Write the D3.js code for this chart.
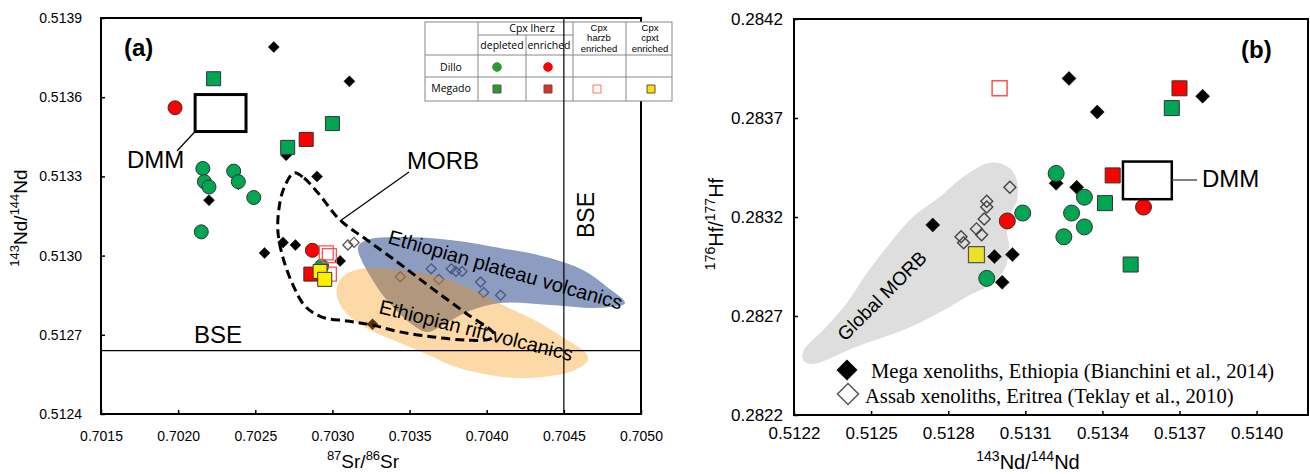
<!DOCTYPE html>
<html>
<head>
<meta charset="utf-8">
<script src="https://cdn.jsdelivr.net/npm/d3@7"></script>
<style>
body { margin: 0; background: #fff; }
text { font-family: "Liberation Sans", Arial, sans-serif; fill: #000; }
</style>
</head>
<body>
<script>
const w = 1310;
const h = 474;

// ---- panel (a): 87Sr/86Sr vs 143Nd/144Nd ----
const aXTicks = [0.7015, 0.7020, 0.7025, 0.7030, 0.7035, 0.7040, 0.7045, 0.7050];
const aYTicks = [0.5124, 0.5127, 0.5130, 0.5133, 0.5136, 0.5139];

const aMega = [[0.70262, 0.51379], [0.70311, 0.51366], [0.70270, 0.51338], [0.70290, 0.51330],
  [0.70239, 0.51327], [0.70220, 0.51321], [0.70256, 0.51301], [0.70268, 0.51305],
  [0.70276, 0.51304], [0.70305, 0.51298], [0.70326, 0.51274]];
const aDilloDep = [[0.70216, 0.51333], [0.70217, 0.51328], [0.70220, 0.51326], [0.70236, 0.51332],
  [0.70239, 0.51328], [0.70249, 0.51322], [0.70215, 0.51309], [0.70293, 0.51296]];
const aDilloEnr = [[0.70198, 0.51356], [0.70287, 0.51302]];
const aMegadoDep = [[0.70223, 0.51367], [0.70300, 0.51350], [0.70271, 0.51341]];
const aMegadoEnr = [[0.70283, 0.51344], [0.70286, 0.51293]];
const aHarzb = [[0.70296, 0.51301], [0.70298, 0.51300], [0.70298, 0.51293]];
const aCpxt = [[0.70292, 0.51294], [0.70295, 0.51291]];
const aOpen = [[0.70310, 0.51304], [0.70314, 0.51305], [0.70344, 0.51292], [0.70364, 0.51295],
  [0.70369, 0.51291], [0.70377, 0.51295], [0.70380, 0.51294], [0.70384, 0.51294],
  [0.70396, 0.51290], [0.70398, 0.51286], [0.70409, 0.51285]];
const aDmm = [[0.70211, 0.51361], [0.70244, 0.51347]];
const aBse = [0.7045, 0.51264];

const aMorb = [[0.702751, 0.513313], [0.702816, 0.513294], [0.702907, 0.513237], [0.703049, 0.513135],
  [0.703224, 0.513059], [0.703438, 0.512968], [0.703652, 0.512873], [0.703872, 0.512779],
  [0.704047, 0.512703], [0.704021, 0.512684], [0.703872, 0.512680], [0.703652, 0.512692],
  [0.703438, 0.512711], [0.703257, 0.512737], [0.703101, 0.512752], [0.702932, 0.512767],
  [0.702822, 0.512809], [0.702744, 0.512889], [0.702680, 0.512991], [0.702647, 0.513089],
  [0.702654, 0.513180], [0.702686, 0.513256]];
const aPlateau = [[0.703166, 0.513033], [0.703224, 0.513059], [0.703438, 0.513070], [0.703762, 0.513059],
  [0.704086, 0.513029], [0.704410, 0.512991], [0.704624, 0.512945], [0.704780, 0.512881],
  [0.704896, 0.512820], [0.704734, 0.512802], [0.704410, 0.512813], [0.704086, 0.512820],
  [0.703872, 0.512786], [0.703717, 0.512737], [0.703613, 0.512711], [0.703503, 0.512745],
  [0.703393, 0.512805], [0.703289, 0.512881]];
const aRift = [[0.703030, 0.512881], [0.703082, 0.512927], [0.703224, 0.512953], [0.703438, 0.512945],
  [0.703697, 0.512919], [0.703911, 0.512870], [0.704132, 0.512805], [0.704345, 0.512745],
  [0.704520, 0.512680], [0.704637, 0.512635], [0.704657, 0.512605], [0.704572, 0.512567],
  [0.704410, 0.512544], [0.704196, 0.512536], [0.703976, 0.512552], [0.703762, 0.512586],
  [0.703652, 0.512616], [0.703438, 0.512669], [0.703244, 0.512718], [0.703114, 0.512767],
  [0.703036, 0.512832]];

// ---- panel (b): 143Nd/144Nd vs 176Hf/177Hf ----
const bXTicks = [0.5122, 0.5125, 0.5128, 0.5131, 0.5134, 0.5137, 0.5140];
const bYTicks = [0.2822, 0.2827, 0.2832, 0.2837, 0.2842];

const bMega = [[0.51327, 0.28390], [0.51338, 0.28373], [0.51379, 0.28381], [0.51322, 0.28337],
  [0.51330, 0.28335], [0.51274, 0.28316], [0.51298, 0.28300], [0.51305, 0.28301], [0.51301, 0.28287]];
const bDilloDep = [[0.51322, 0.28342], [0.51333, 0.28330], [0.51328, 0.28322], [0.51333, 0.28315],
  [0.51325, 0.28310], [0.51309, 0.28322], [0.51295, 0.28289]];
const bDilloEnr = [[0.51356, 0.28325], [0.51303, 0.28318]];
const bMegadoDep = [[0.51367, 0.28375], [0.51341, 0.28327], [0.51351, 0.28296]];
const bMegadoEnr = [[0.51370, 0.28385], [0.51344, 0.28341]];
const bHarzb = [[0.51300, 0.28385]];
const bCpxt = [[0.51291, 0.28301]];
const bAssab = [[0.51304, 0.28335], [0.51295, 0.28328], [0.51295, 0.28325], [0.51294, 0.28319],
  [0.51291, 0.28314], [0.51293, 0.28311], [0.51285, 0.28310], [0.51286, 0.28307]];
const bDmm = [[0.51348, 0.28348], [0.51367, 0.28329]];
const bMorb = [[0.512963, 0.283474], [0.513033, 0.283453], [0.513064, 0.283398], [0.513068, 0.283287],
  [0.513040, 0.283206], [0.513029, 0.283125], [0.513037, 0.283044], [0.513021, 0.282943],
  [0.512963, 0.282857], [0.512885, 0.282807], [0.512799, 0.282741], [0.512628, 0.282630],
  [0.512441, 0.282544], [0.512270, 0.282458], [0.512235, 0.282478], [0.512239, 0.282529],
  [0.512321, 0.282640], [0.512406, 0.282766], [0.512484, 0.282918], [0.512574, 0.283069],
  [0.512663, 0.283201], [0.512768, 0.283302], [0.512854, 0.283398]];

const legendLabels = ["Mega xenoliths, Ethiopia (Bianchini et al., 2014)",
  "Assab xenoliths, Eritrea (Teklay et al., 2010)"];

const green = "#00a651";
const red = "#ff0000";

const svg = d3.select("body")
  .append("svg")
  .attr("width", w)
  .attr("height", h);

svg.append("rect").attr("width", w).attr("height", h).attr("fill", "#fff");

const diamond = r => `M0,${-r}L${r},0L0,${r}L${-r},0Z`;
const square = s => `M${-s / 2},${-s / 2}h${s}v${s}h${-s}Z`;
const circle = r => d3.symbol(d3.symbolCircle, Math.PI * r * r)();

function marks(g, data, sx, sy, path, fill, stroke, sw) {
  g.append("g")
    .selectAll("path")
    .data(data)
    .enter()
    .append("path")
      .attr("transform", d => `translate(${sx(d[0])},${sy(d[1])})`)
      .attr("d", path)
      .attr("fill", fill)
      .attr("stroke", stroke)
      .attr("stroke-width", sw);
}

function supText(g, parts, fs, ss) {
  const t = g.append("text").attr("font-size", fs);
  parts.forEach(p => {
    if (p[1]) t.append("tspan").attr("font-size", ss).attr("dy", -0.4 * fs).text(p[0]);
    else t.append("tspan").attr("dy", 0.4 * fs).text(p[0]);
  });
  t.select("tspan").attr("dy", -0.4 * fs);
  return t;
}

function frame(g, sx, sy, xt, yt, fs, padX, padY) {
  const xAxis = d3.axisBottom(sx).tickValues(xt).tickFormat(d3.format(".4f"))
    .tickSizeInner(-4).tickSizeOuter(0).tickPadding(padX);
  const yAxis = d3.axisLeft(sy).tickValues(yt).tickFormat(d3.format(".4f"))
    .tickSizeInner(-4).tickSizeOuter(0).tickPadding(padY);
  const gx = g.append("g").attr("transform", `translate(0,${sy.range()[0]})`).call(xAxis);
  const gy = g.append("g").attr("transform", `translate(${sx.range()[0]},0)`).call(yAxis);
  [gx, gy].forEach(a => {
    a.select(".domain").remove();
    a.selectAll("line").attr("stroke", "#000").attr("stroke-width", 1.5);
    a.selectAll("text").attr("font-size", fs).attr("fill", "#000");
  });
}

function border(g, sx, sy) {
  g.append("rect")
    .attr("x", sx.range()[0]).attr("y", sy.range()[1])
    .attr("width", sx.range()[1] - sx.range()[0])
    .attr("height", sy.range()[0] - sy.range()[1])
    .attr("fill", "none").attr("stroke", "#000").attr("stroke-width", 2);
}

// ================= panel (a) =================
const ax = d3.scaleLinear().domain([0.7015, 0.7050]).range([101, 641]);
const ay = d3.scaleLinear().domain([0.5124, 0.5139]).range([414, 18]);
const ga = svg.append("g");

frame(ga, ax, ay, aXTicks, aYTicks, 14, 17, 19);

const closed = d3.line().x(d => ax(d[0])).y(d => ay(d[1])).curve(d3.curveCatmullRomClosed);

marks(ga, aOpen, ax, ay, diamond(5), "none", "#555", 1.3);
marks(ga, aMega, ax, ay, diamond(5.5), "#000", "#000", 0.5);

ga.append("path").attr("d", closed(aPlateau)).attr("fill", "#415a98").attr("opacity", 0.6);
ga.append("path").attr("d", closed(aRift)).attr("fill", "#f69200").attr("opacity", 0.35);

ga.append("path")
  .attr("d", closed(aMorb))
  .attr("fill", "none")
  .attr("stroke", "#000")
  .attr("stroke-width", 3)
  .attr("stroke-dasharray", "9,5");

marks(ga, aDilloDep, ax, ay, circle(7), green, "#333", 1);
marks(ga, aDilloEnr, ax, ay, circle(7), red, "#333", 1);
marks(ga, aMegadoDep, ax, ay, square(14), green, "#333", 1);
marks(ga, aMegadoEnr, ax, ay, square(14), red, "#333", 1);
marks(ga, aHarzb, ax, ay, square(14), "none", "#ff5050", 1.3);
marks(ga, aCpxt, ax, ay, square(14), "#ffee00", "#333", 1);

// BSE horizontal line
ga.append("line")
  .attr("x1", ax.range()[0]).attr("x2", ax.range()[1])
  .attr("y1", ay(aBse[1])).attr("y2", ay(aBse[1]))
  .attr("stroke", "#000").attr("stroke-width", 1.2);

// DMM box
ga.append("rect")
  .attr("x", ax(aDmm[0][0])).attr("y", ay(aDmm[0][1]))
  .attr("width", ax(aDmm[1][0]) - ax(aDmm[0][0]))
  .attr("height", ay(aDmm[1][1]) - ay(aDmm[0][1]))
  .attr("fill", "#fff").attr("stroke", "#000").attr("stroke-width", 3);
ga.append("line")
  .attr("x1", ax(aDmm[0][0])).attr("y1", ay(aDmm[1][1]))
  .attr("x2", 177).attr("y2", 151)
  .attr("stroke", "#000").attr("stroke-width", 1.2);
ga.append("text").attr("x", 127).attr("y", 168).attr("font-size", 24).text("DMM");

// MORB label
ga.append("line").attr("x1", 409).attr("y1", 172).attr("x2", 340).attr("y2", 221)
  .attr("stroke", "#000").attr("stroke-width", 1.2);
ga.append("text").attr("x", 407).attr("y", 169).attr("font-size", 24).text("MORB");

ga.append("text").attr("x", 194).attr("y", 343).attr("font-size", 24).text("BSE");

ga.append("text")
  .attr("transform", "translate(387,243) rotate(16)")
  .attr("font-size", 20)
  .text("Ethiopian plateau volcanics");
ga.append("text")
  .attr("transform", "translate(378,313) rotate(14)")
  .attr("font-size", 20)
  .text("Ethiopian rift volcanics");

border(ga, ax, ay);

// legend table
const colX = [425, 478, 526, 573, 626, 672];
const rowY = [22, 35, 55, 77, 101];
const tbl = ga.append("g");
tbl.append("rect")
  .attr("x", colX[0]).attr("y", rowY[0])
  .attr("width", colX[5] - colX[0]).attr("height", rowY[4] - rowY[0])
  .attr("fill", "#fff").attr("stroke", "#888").attr("stroke-width", 1);
const tl = (x1, y1, x2, y2) => tbl.append("line")
  .attr("x1", x1).attr("y1", y1).attr("x2", x2).attr("y2", y2)
  .attr("stroke", "#888").attr("stroke-width", 1);
tl(colX[1], rowY[1], colX[3], rowY[1]);
tl(colX[0], rowY[2], colX[5], rowY[2]);
tl(colX[0], rowY[3], colX[5], rowY[3]);
[1, 3, 4].forEach(i => tl(colX[i], rowY[0], colX[i], rowY[4]));
tl(colX[2], rowY[1], colX[2], rowY[4]);

const tt = (x, y, s) => tbl.append("text")
  .attr("x", x).attr("y", y)
  .attr("text-anchor", "middle")
  .style("font-family", "'Open Sans', sans-serif")
  .attr("font-size", 10.5)
  .text(s);
// stacked headers use a tighter font so the three lines fit in the cell
const ts = (x, y, s) => tbl.append("text")
  .attr("x", x).attr("y", y)
  .attr("text-anchor", "middle")
  .attr("font-size", 9.5)
  .text(s);
tt(532, 32, "Cpx lherz");
tt(502, 49, "depleted");
tt(549, 49, "enriched");
["Cpx", "harzb", "enriched"].forEach((s, i) => ts(599, 30.5 + i * 10.6, s));
["Cpx", "cpxt", "enriched"].forEach((s, i) => ts(650, 30.5 + i * 10.6, s));
tt(451, 71, "Dillo");
tt(451, 92, "Megado");

const tm = (x, y, path, fill, stroke) => tbl.append("path")
  .attr("transform", `translate(${x},${y})`).attr("d", path)
  .attr("fill", fill).attr("stroke", stroke).attr("stroke-width", 1);
tm(497, 67, circle(4.3), "#2e9a2e", "#2e9a2e");
tm(548, 67, circle(4.3), red, red);
tm(497, 89, square(8), "#2e9a2e", "#555");
tm(548, 89, square(8), "#e03020", "#555");
tm(597, 89, square(8), "#fff", "#ff7050");
tm(651, 89, square(8), "#ffe000", "#555");

// BSE vertical line drawn over the table
ga.append("line")
  .attr("x1", ax(aBse[0])).attr("x2", ax(aBse[0]))
  .attr("y1", ay.range()[1]).attr("y2", ay.range()[0])
  .attr("stroke", "#000").attr("stroke-width", 1.2);
ga.append("text")
  .attr("transform", "translate(594,215) rotate(-90)")
  .attr("text-anchor", "middle")
  .attr("font-size", 23)
  .text("BSE");

ga.append("text").attr("x", 124).attr("y", 56).attr("font-size", 24).attr("font-weight", "bold").text("(a)");

supText(ga, [["87", 1], ["Sr/", 0], ["86", 1], ["Sr", 0]], 19, 13)
  .attr("x", 363).attr("y", 468).attr("text-anchor", "middle");
supText(ga, [["143", 1], ["Nd/", 0], ["144", 1], ["Nd", 0]], 19, 13)
  .attr("text-anchor", "middle")
  .attr("transform", "translate(27,218) rotate(-90)");

// ================= panel (b) =================
const bx = d3.scaleLinear().domain([0.5122, 0.5142]).range([794, 1308]);
const by = d3.scaleLinear().domain([0.2822, 0.2842]).range([415, 19]);
const gb = svg.append("g");

const closedB = d3.line().x(d => bx(d[0])).y(d => by(d[1])).curve(d3.curveCatmullRomClosed);
gb.append("path").attr("d", closedB(bMorb)).attr("fill", "#dedede");

frame(gb, bx, by, bXTicks, bYTicks, 17, 12, 11);

gb.append("text")
  .attr("transform", "translate(882,296) rotate(-45)")
  .attr("text-anchor", "middle")
  .attr("dominant-baseline", "central")
  .attr("font-size", 19)
  .text("Global MORB");

marks(gb, bAssab, bx, by, diamond(6), "none", "#444", 1.4);
marks(gb, bMega, bx, by, diamond(7), "#000", "#000", 0.5);
marks(gb, bDilloDep, bx, by, circle(8), green, "#333", 1);
marks(gb, bDilloEnr, bx, by, circle(8), red, "#333", 1);
marks(gb, bMegadoDep, bx, by, square(15), green, "#333", 1);
marks(gb, bMegadoEnr, bx, by, square(15), red, "#333", 1);
marks(gb, bHarzb, bx, by, square(15), "none", "#ff5050", 1.5);
marks(gb, bCpxt, bx, by, square(16), "#e8e32a", "#555", 1.2);

gb.append("rect")
  .attr("x", bx(bDmm[0][0])).attr("y", by(bDmm[0][1]))
  .attr("width", bx(bDmm[1][0]) - bx(bDmm[0][0]))
  .attr("height", by(bDmm[1][1]) - by(bDmm[0][1]))
  .attr("fill", "#fff").attr("stroke", "#000").attr("stroke-width", 2.5);
gb.append("line")
  .attr("x1", bx(bDmm[1][0])).attr("x2", 1197)
  .attr("y1", 180).attr("y2", 180)
  .attr("stroke", "#555").attr("stroke-width", 1.5);
gb.append("text").attr("x", 1202).attr("y", 187).attr("font-size", 24).text("DMM");

// legend
gb.append("path").attr("transform", "translate(847,370)").attr("d", diamond(10.5)).attr("fill", "#000");
gb.append("path").attr("transform", "translate(848,394)").attr("d", diamond(10.5))
  .attr("fill", "#fff").attr("stroke", "#555").attr("stroke-width", 1.5);
gb.selectAll(".leg")
  .data(legendLabels)
  .enter()
  .append("text")
    .attr("x", (d, i) => i ? 865 : 871)
    .attr("y", (d, i) => 378 + i * 25)
    .style("font-family", "'Liberation Serif', 'Times New Roman', serif")
    .attr("font-size", 20.6)
    .text(d => d);

border(gb, bx, by);

gb.append("text").attr("x", 1241).attr("y", 58).attr("font-size", 24).attr("font-weight", "bold").text("(b)");

supText(gb, [["143", 1], ["Nd/", 0], ["144", 1], ["Nd", 0]], 20, 14)
  .attr("x", 1028).attr("y", 469).attr("text-anchor", "middle");
supText(gb, [["176", 1], ["Hf/", 0], ["177", 1], ["Hf", 0]], 20, 14)
  .attr("text-anchor", "middle")
  .attr("transform", "translate(723,224) rotate(-90)");
</script>
</body>
</html>
